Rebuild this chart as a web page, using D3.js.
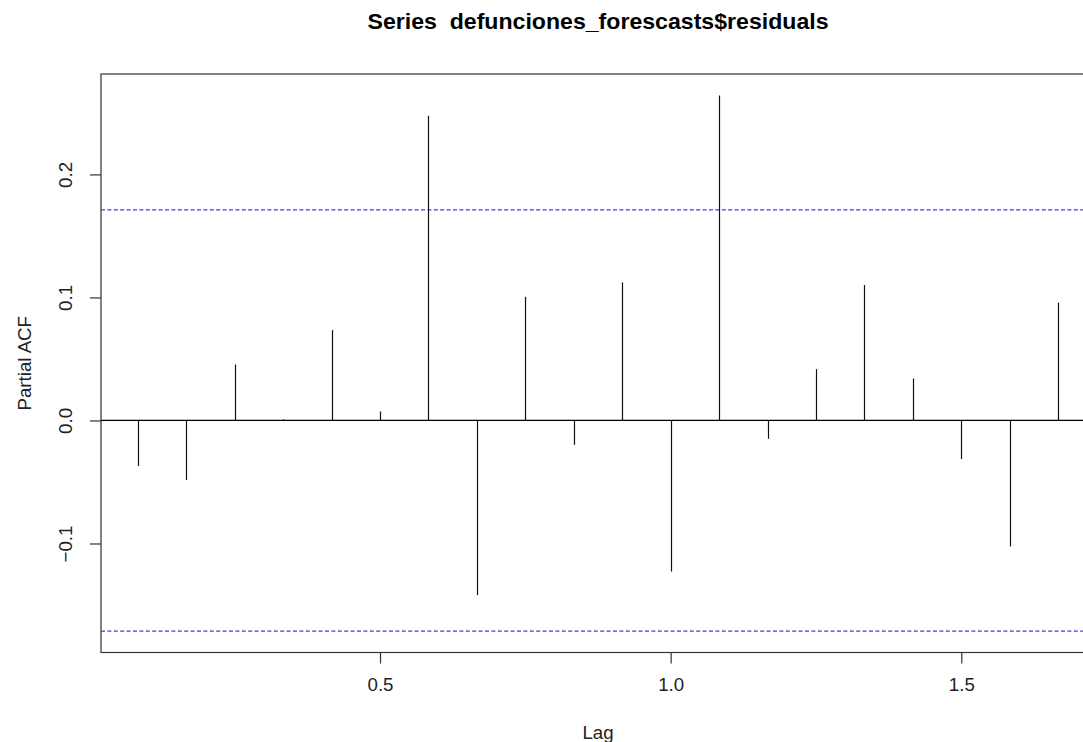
<!DOCTYPE html>
<html>
<head>
<meta charset="utf-8">
<script src="https://cdn.jsdelivr.net/npm/d3@7"></script>
<style>
  html, body { margin: 0; padding: 0; background: #fff; }
  svg { display: block; font-family: "Liberation Sans", Arial, sans-serif; }
</style>
</head>
<body>
<svg id="chart" width="1083" height="742"></svg>
<script>
// Partial autocorrelations of the residuals, lags in years (monthly series)
const lagIndex = [1, 2, 3, 4, 5, 6, 7, 8, 9, 10, 11, 12, 13, 14, 15, 16, 17, 18, 19, 20];
const pacfValues = [-0.037, -0.0485, 0.0455, 0.001, 0.0734, 0.0073, 0.2477, -0.142, 0.1005, -0.0198,
                    0.1122, -0.1228, 0.2642, -0.0149, 0.0417, 0.110, 0.0341, -0.0314, -0.1024, 0.0957];
const frequency = 12;
const confLimit = 0.1712;
const xTicks = [0.5, 1.0, 1.5];
const yTicks = [-0.1, 0.0, 0.1, 0.2];
const titleText = "Series  defunciones_forescasts$residuals";
const xLabel = "Lag";
const yLabel = "Partial ACF";

const lags = lagIndex.map(k => k / frequency);
const data = lags.map((l, i) => ({ lag: l, value: pacfValues[i] }));

const svg = d3.select("#chart");

// R-style 4% padding around the data range
function padded(lo, hi) {
  const d = (hi - lo) * 0.04;
  return [lo - d, hi + d];
}
const xDom = padded(d3.min(lags), d3.max(lags));
const yDom = padded(Math.min(d3.min(pacfValues), -confLimit), Math.max(d3.max(pacfValues), confLimit));

const plot = { left: 101, right: 1095, top: 74, bottom: 652.5 };

const x = d3.scaleLinear().domain(xDom).range([plot.left, plot.right]);
const y = d3.scaleLinear().domain(yDom).range([plot.bottom, plot.top]);

// plot frame
svg.append("rect")
  .attr("x", plot.left).attr("y", plot.top)
  .attr("width", plot.right - plot.left).attr("height", plot.bottom - plot.top)
  .attr("fill", "none").attr("stroke", "#333").attr("stroke-width", 1.2);

// zero line
svg.append("line")
  .attr("x1", plot.left).attr("x2", plot.right)
  .attr("y1", y(0)).attr("y2", y(0))
  .attr("stroke", "#000").attr("stroke-width", 1.2);

// confidence bounds
svg.selectAll("line.ci")
  .data([confLimit, -confLimit])
  .join("line")
  .attr("class", "ci")
  .attr("x1", plot.left).attr("x2", plot.right)
  .attr("y1", d => y(d)).attr("y2", d => y(d))
  .attr("stroke", "#3a3af0").attr("stroke-width", 1.2)
  .attr("stroke-dasharray", "4,2.4");

// spikes
svg.selectAll("line.spike")
  .data(data)
  .join("line")
  .attr("class", "spike")
  .attr("x1", d => Math.round(x(d.lag)) + 0.5).attr("x2", d => Math.round(x(d.lag)) + 0.5)
  .attr("y1", y(0)).attr("y2", d => y(d.value))
  .attr("stroke", "#111").attr("stroke-width", 1.2);

// x axis
const xAxis = d3.axisBottom(x).tickValues(xTicks).tickFormat(d3.format(".1f"))
  .tickSize(11).tickPadding(14);
const gx = svg.append("g").attr("transform", `translate(0,${plot.bottom})`).call(xAxis);
gx.select(".domain").remove();
gx.selectAll(".tick line").attr("stroke", "#333").attr("stroke-width", 1.2);
gx.selectAll(".tick text").attr("font-size", "18.7px").attr("fill", "#222")
  .attr("font-family", "Liberation Sans, Arial, sans-serif");

// y axis
const yAxis = d3.axisLeft(y).tickValues(yTicks).tickFormat(d3.format(".1f")).tickSize(11);
const gy = svg.append("g").attr("transform", `translate(${plot.left},0)`).call(yAxis);
gy.select(".domain").remove();
gy.selectAll(".tick line").attr("stroke", "#333").attr("stroke-width", 1.2);
gy.selectAll(".tick text")
  .attr("font-size", "18.7px").attr("fill", "#222")
  .attr("font-family", "Liberation Sans, Arial, sans-serif")
  .attr("x", null).attr("dy", null)
  .attr("text-anchor", "middle")
  .attr("transform", "translate(-29,0) rotate(-90)");

// axis titles
svg.append("text")
  .attr("x", (plot.left + plot.right) / 2).attr("y", 739)
  .attr("text-anchor", "middle").attr("font-size", "18.7px").attr("fill", "#222")
  .text(xLabel);

svg.append("text")
  .attr("transform", `translate(31,${(plot.top + plot.bottom) / 2}) rotate(-90)`)
  .attr("text-anchor", "middle").attr("font-size", "18.7px").attr("fill", "#222")
  .text(yLabel);

// main title (keeps the double space)
svg.append("text")
  .attr("x", (plot.left + plot.right) / 2).attr("y", 29)
  .attr("text-anchor", "middle").attr("font-size", "21.5px").attr("font-weight", "bold")
  .attr("fill", "#000")
  .attr("xml:space", "preserve")
  .style("white-space", "pre")
  .attr("textLength", 461)
  .attr("lengthAdjust", "spacingAndGlyphs")
  .text(titleText);
</script>
</body>
</html>
